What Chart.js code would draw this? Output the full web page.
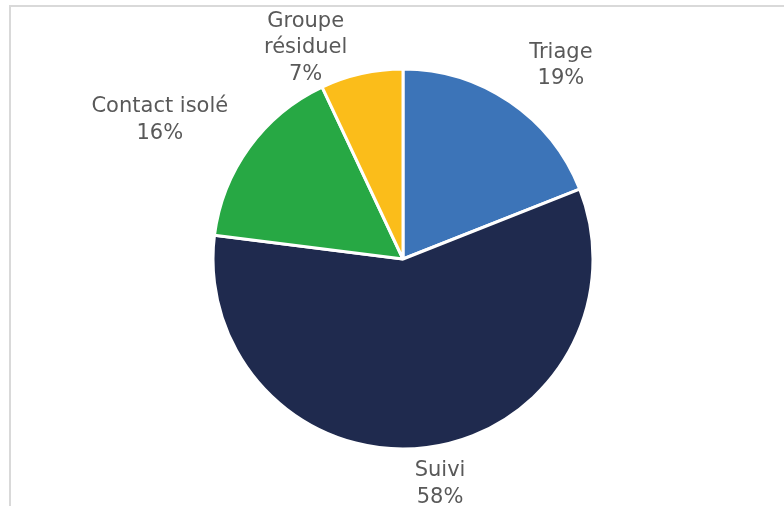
<!DOCTYPE html>
<html>
<head>
<meta charset="utf-8">
<script src="https://cdn.jsdelivr.net/npm/chart.js@4/dist/chart.umd.min.js"></script>
<style>
  html, body { margin: 0; padding: 0; background: #fff; }
  body { width: 784px; height: 506px; position: relative; overflow: hidden; }
  #frame { position: absolute; left: 9px; top: 5px; width: 800px; height: 520px;
           border-left: 2px solid #d9d9d9; border-top: 2px solid #d9d9d9; }
  #wrap { position: absolute; left: 0; top: 0; width: 784px; height: 506px; }
</style>
</head>
<body>
<div id="frame"></div>
<div id="wrap"><canvas id="chart" width="784" height="506"></canvas></div>
<script>
// slices, clockwise from 12 o'clock
const labels = [['Triage'], ['Suivi'], ['Contact isolé'], ['Groupe', 'résiduel']];
const shares = [19, 58, 16, 7];
const colors = ['#3c74b8', '#1f2a4e', '#27a844', '#fbbd1a'];
// small nudges so the labels sit where Excel put them
const labelNudge = [[23, 5], [7, -13], [-49, 2], [-45, 23]];

// draws "name / xx%" outside each slice
const outsideLabels = {
  id: 'outsideLabels',
  afterDatasetsDraw(chart) {
    const ctx = chart.ctx;
    const meta = chart.getDatasetMeta(0);
    ctx.save();
    ctx.font = "21px 'DejaVu Sans'";
    ctx.fillStyle = '#595959';
    ctx.textAlign = 'center';
    ctx.textBaseline = 'middle';
    meta.data.forEach((arc, i) => {
      const mid = (arc.startAngle + arc.endAngle) / 2;
      const dist = arc.outerRadius + 50;
      const cx = arc.x + Math.cos(mid) * dist + labelNudge[i][0];
      const cy = arc.y + Math.sin(mid) * dist + labelNudge[i][1];
      const lines = labels[i].concat([shares[i] + '%']);
      const lh = 26.5;
      const y0 = cy - (lines.length - 1) * lh / 2;
      lines.forEach((t, k) => ctx.fillText(t, cx, y0 + k * lh));
    });
    ctx.restore();
  }
};

new Chart(document.getElementById('chart').getContext('2d'), {
  type: 'pie',
  data: {
    labels: labels.map(l => l.join(' ')),
    datasets: [{
      data: shares,
      backgroundColor: colors,
      borderColor: '#ffffff',
      borderWidth: 3,
      radius: 190
    }]
  },
  options: {
    responsive: false,
    animation: false,
    layout: { padding: { left: 42, right: 20, top: 68, bottom: 56 } },
    plugins: {
      legend: { display: false },
      tooltip: { enabled: false }
    }
  },
  plugins: [outsideLabels]
});
</script>
</body>
</html>
